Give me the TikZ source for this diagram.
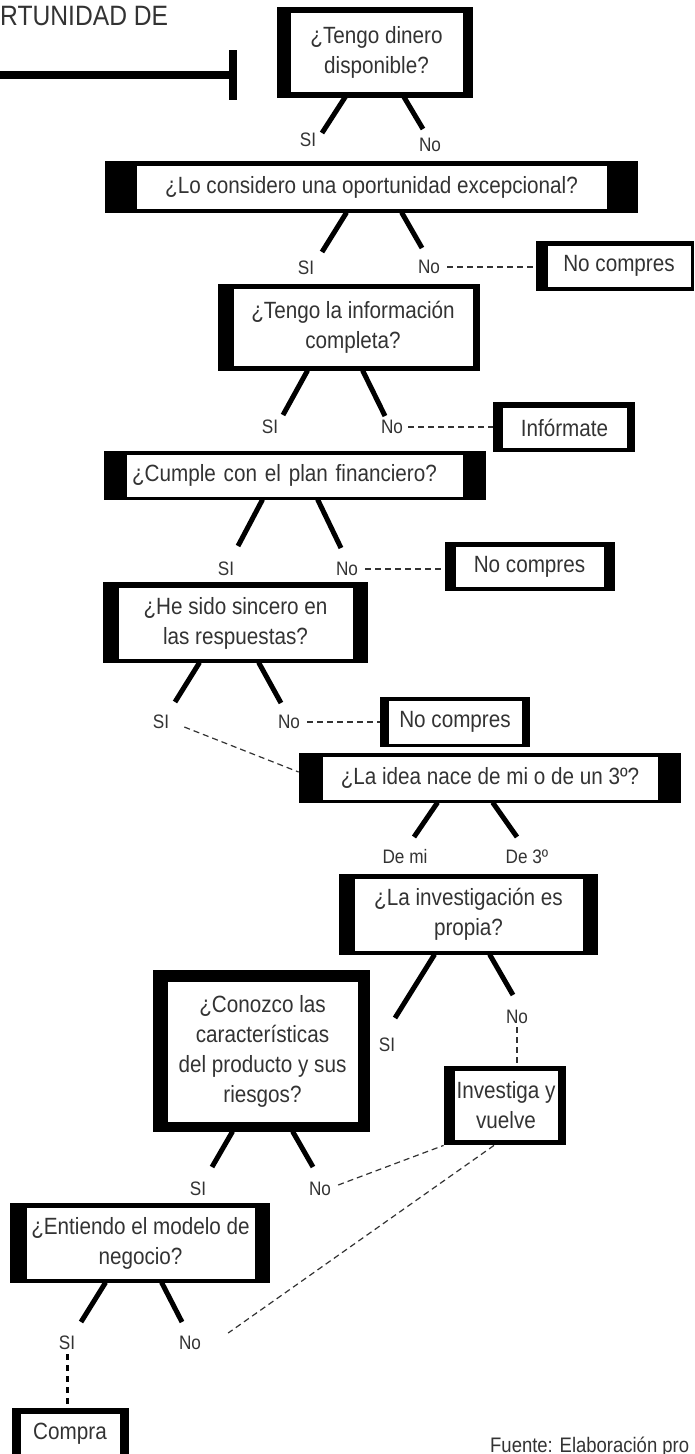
\documentclass[tikz,border=0pt]{standalone}
\usepackage{fontspec}
\setmainfont{Liberation Sans}
\newfontfamily\condfont[FakeStretch=0.88]{Liberation Sans}
\usetikzlibrary{calc,backgrounds}
\definecolor{txt}{HTML}{333333}
\tikzset{
  qbox/.style={draw=black, line width=0.8pt, fill=white, inner sep=0pt, align=center, text=txt, font=\condfont\fontsize{23.5}{30}\selectfont},
  lbl/.style={text=txt, font=\condfont\fontsize{19.5}{22}\selectfont, inner sep=1pt},
  stub/.style={line width=5pt, black},
  dsh/.style={line width=1.5pt, txt, dash pattern=on 6pt off 4pt},
  thinbar/.style={line width=8pt, black},
}
\newcommand\bandfill[5]{\fill[black] ($(#1.north west)+(-#2,-#4)$) rectangle ($(#1.south east)+(#3,#5)$);}
\begin{document}
\begin{tikzpicture}[x=1pt,y=-1pt]
\useasboundingbox (0,0) rectangle (695,1454);
% title and bar
\node[anchor=base west, text=txt, font=\condfont\fontsize{28}{30}\selectfont, inner sep=0pt] (title) at (0,25) {RTUNIDAD DE};
\coordinate (barL) at (0,75);
\coordinate (barR) at (229,75);
\coordinate (tickT) at (233,50);
\coordinate (tickB) at (233,100);
\draw[thinbar] (barL) -- (barR);
\draw[thinbar] (tickT) -- (tickB);

% boxes (inner white parts)
\node[qbox, minimum width=173pt, minimum height=80pt] (b1) at (376.5,52) {¿Tengo dinero\\disponible?};
\node[qbox, minimum width=471pt, minimum height=44pt] (b2) at (371.5,187) {¿Lo considero una oportunidad excepcional?};
\node[qbox, minimum width=144pt, minimum height=42pt] (nc1) at (619,266) {No compres};
\node[qbox, minimum width=240pt, minimum height=78pt] (b3) at (353,327) {¿Tengo la información\\completa?};
\node[qbox, minimum width=125pt, minimum height=41pt] (inf) at (564.5,427.5) {Infórmate};
\node[qbox, minimum width=337pt, minimum height=43pt, text width=325pt, align=left, inner xsep=6pt] (b4) at (294.5,475.5) {¿Cumple con el plan financiero?};
\node[qbox, minimum width=149pt, minimum height=41pt] (nc2) at (529.5,566.5) {No compres};
\node[qbox, minimum width=235pt, minimum height=72pt] (b5) at (235.5,623) {¿He sido sincero en\\las respuestas?};
\node[qbox, minimum width=134pt, minimum height=44pt] (nc3) at (455,722) {No compres};
\node[qbox, minimum width=336pt, minimum height=44pt] (b6) at (490,778) {¿La idea nace de mi o de un 3º?};
\node[qbox, minimum width=229pt, minimum height=73pt] (b7) at (468.5,914.5) {¿La investigación es\\propia?};
\node[qbox, minimum width=191pt, minimum height=141pt] (b8) at (262.5,1051.5) {¿Conozco las\\características\\del producto y sus\\riesgos?};
\node[qbox, minimum width=104pt, minimum height=70pt] (inv) at (506,1105) {Investiga y\\vuelve};
\node[qbox, minimum width=229pt, minimum height=72pt] (b9) at (140.5,1243) {¿Entiendo el modelo de\\negocio?};
\node[qbox, minimum width=100pt, minimum height=42pt] (compra) at (70,1434) {Compra};

\begin{pgfonlayer}{background}
  \fill[white] (0,0) rectangle (695,1454);
  \bandfill{b1}{13}{10}{5}{6}
  \bandfill{b2}{31}{31}{4}{4}
  \bandfill{nc1}{11}{3}{4}{4}
  \bandfill{b3}{15}{7}{4}{5}
  \bandfill{inf}{9}{8}{5}{4}
  \bandfill{b4}{22}{23}{3}{3}
  \bandfill{nc2}{10}{11}{4}{4}
  \bandfill{b5}{15}{15}{5}{4}
  \bandfill{nc3}{8}{8}{3}{3}
  \bandfill{b6}{23}{23}{3}{3}
  \bandfill{b7}{15}{15}{4}{4}
  \bandfill{b8}{14}{12}{11}{10}
  \bandfill{inv}{10}{8}{4}{5}
  \bandfill{b9}{16}{15}{4}{4}
  \bandfill{compra}{8}{9}{5}{5}
\end{pgfonlayer}

% labels
\node[lbl] (s1) at (308,140) {SI};
\node[lbl] (n1) at (430,145) {No};
\node[lbl] (s2) at (306,268) {SI};
\node[lbl] (n2) at (429,267) {No};
\node[lbl] (s3) at (270,427) {SI};
\node[lbl] (n3) at (392,427) {No};
\node[lbl] (s4) at (226,569) {SI};
\node[lbl] (n4) at (347,569) {No};
\node[lbl] (s5) at (161,722) {SI};
\node[lbl] (n5) at (289,722) {No};
\node[lbl] (dm) at (405,857) {De mi};
\node[lbl] (d3) at (527,857) {De 3º};
\node[lbl] (s7) at (387,1045) {SI};
\node[lbl] (n7) at (517,1017) {No};
\node[lbl] (s8) at (198,1189) {SI};
\node[lbl] (n8) at (320,1189) {No};
\node[lbl] (s9) at (67,1343) {SI};
\node[lbl] (n9) at (190,1343) {No};
\node[anchor=base west, text=txt, font=\condfont\fontsize{21}{22}\selectfont, inner sep=0pt] (src) at (490,1452) {Fuente: Elaboración pro};

% stubs
\draw[stub] ($(b1.south west)+(56,4)$) -- ($(s1)+(14,-7)$);
\draw[stub] ($(b1.south west)+(114,4)$) -- ($(n1)+(-7,-16)$);
\draw[stub] ($(b2.south west)+(211,3)$) -- ($(s2)+(16,-16)$);
\draw[stub] ($(b2.south west)+(266,3)$) -- ($(n2)+(-7,-19)$);
\draw[stub] ($(b3.south west)+(75,4)$) -- ($(s3)+(13,-12)$);
\draw[stub] ($(b3.south west)+(130,4)$) -- ($(n3)+(-7,-11)$);
\draw[stub] ($(b4.south west)+(137,2)$) -- ($(s4)+(12,-23)$);
\draw[stub] ($(b4.south west)+(192,2)$) -- ($(n4)+(-6,-21)$);
\draw[stub] ($(b5.south west)+(82,3)$) -- ($(s5)+(14,-20)$);
\draw[stub] ($(b5.south west)+(141,3)$) -- ($(n5)+(-8,-19)$);
\draw[stub] ($(b6.south west)+(116,2)$) -- ($(dm)+(9,-20)$);
\draw[stub] ($(b6.south west)+(171,2)$) -- ($(d3)+(-10,-20)$);
\draw[stub] ($(b7.south west)+(81,3)$) -- ($(s7)+(8,-27)$);
\draw[stub] ($(b7.south west)+(136,3)$) -- ($(n7)+(-4,-22)$);
\draw[stub] ($(b8.south west)+(66,9)$) -- ($(s8)+(14,-22)$);
\draw[stub] ($(b8.south west)+(126,9)$) -- ($(n8)+(-7,-22)$);
\draw[stub] ($(b9.south west)+(80,3)$) -- ($(s9)+(14,-21)$);
\draw[stub] ($(b9.south west)+(136,3)$) -- ($(n9)+(-8,-21)$);

% dashed connectors
\draw[dsh] ($(n2.east)+(6,0)$) -- ($(n2.east -| nc1.west)+(-11,0)$);
\draw[dsh] ($(n3.east)+(4,0)$) -- ($(n3.east -| inf.west)+(-9,0)$);
\draw[dsh] ($(n4.east)+(6,0)$) -- ($(n4.east -| nc2.west)+(-10,0)$);
\draw[dsh] ($(n5.east)+(6,0)$) -- ($(n5.east -| nc3.west)+(-8,0)$);
\draw[dsh, line width=1.2pt] ($(s5.east)+(14,5)$) -- ($(b6.west)+(-23,-6)$);
\draw[dsh] ($(n7.south)+(0,2)$) -- ($(n7.south |- inv.north)+(0,-4)$);
\draw[dsh, line width=1.2pt] ($(n8.east)+(6,-4)$) -- ($(inv.south west)+(-10,5)$);
\draw[dsh, line width=1.2pt] ($(inv.south)+(-12,5)$) -- ($(n9.east)+(26,-10)$);
\draw[black, line width=3pt, dash pattern=on 6pt off 5pt] ($(s9.south)+(0,3)$) -- ($(s9.south |- compra.north)+(0,-5)$);
\end{tikzpicture}
\end{document}
